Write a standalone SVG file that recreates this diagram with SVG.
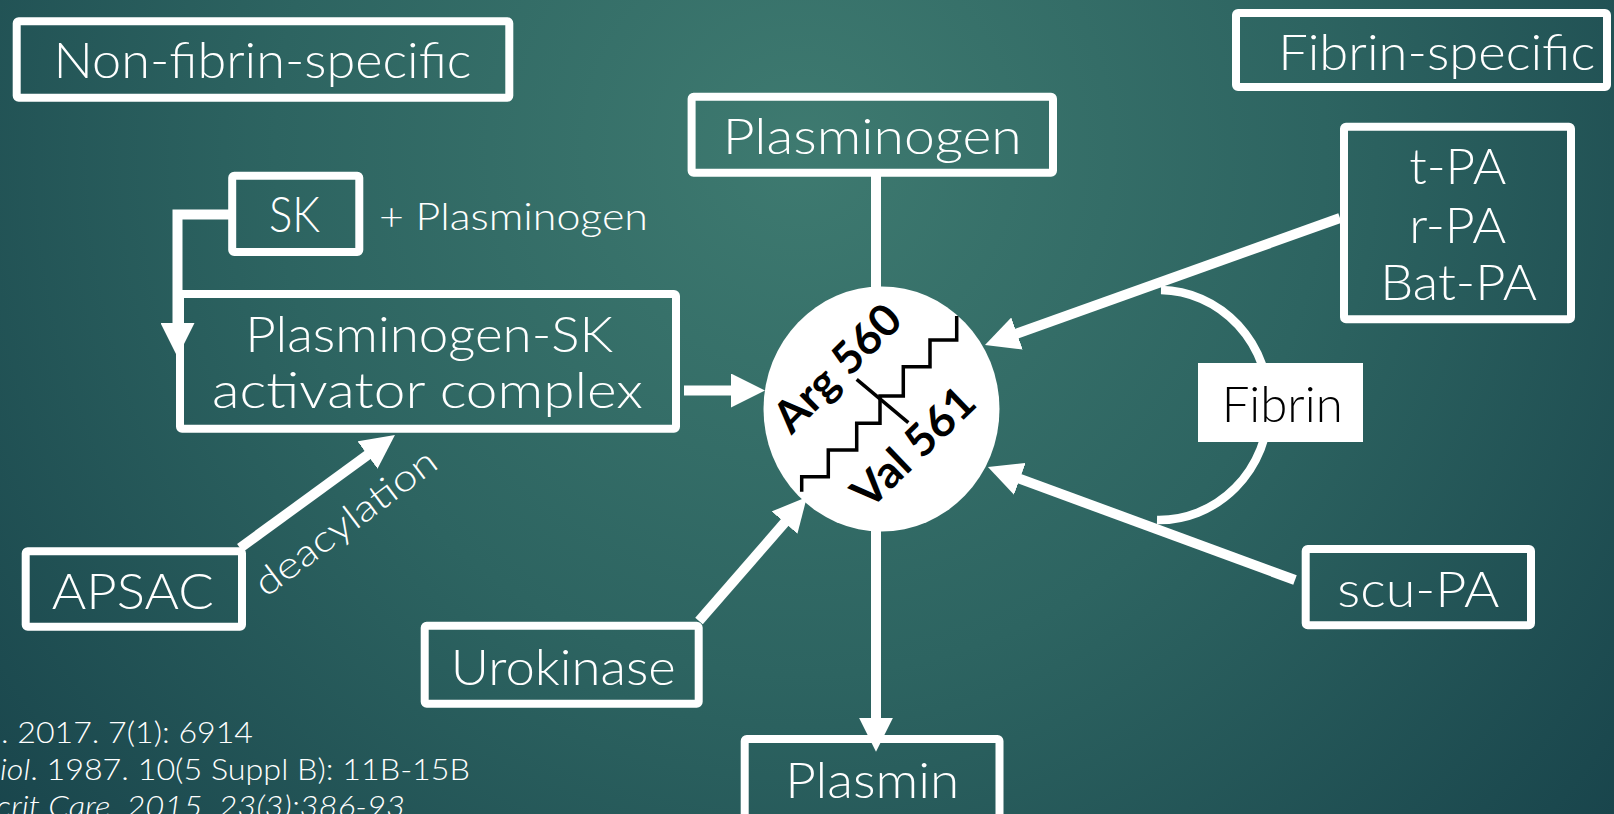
<svg xmlns="http://www.w3.org/2000/svg" width="1614" height="814" viewBox="0 0 1614 814">
<defs>
<radialGradient id="bg" gradientUnits="userSpaceOnUse" cx="800" cy="150" r="1050">
<stop offset="0" stop-color="#3e7a70"/>
<stop offset="0.5" stop-color="#2d6461"/>
<stop offset="1" stop-color="#19454c"/>
</radialGradient>
<marker id="ah" markerUnits="userSpaceOnUse" markerWidth="34" markerHeight="34" viewBox="0 0 34 34" refX="2" refY="17" orient="auto">
<path d="M0,0 L34,17 L0,34 z" fill="#ffffff"/>
</marker>
<style>
.box{fill:none;stroke:#ffffff;stroke-width:8;}
.t{font-family:"Lato","Noto Sans","Liberation Sans",sans-serif;font-weight:300;fill:#ffffff;font-size:49px;text-anchor:middle;}
.s{font-size:37px;}
.c{font-family:"Lato","Noto Sans","Liberation Sans",sans-serif;font-weight:300;fill:#ffffff;font-size:29px;}
.b{font-family:"Lato","Liberation Sans",sans-serif;font-weight:bold;fill:#000000;font-size:44px;text-anchor:middle;}
.ln{fill:none;stroke:#ffffff;stroke-width:10;stroke-linejoin:miter;}
.arr{marker-end:url(#ah);}
.zz{fill:none;stroke:#000000;stroke-width:3.5;}
</style>
</defs>
<rect width="1614" height="814" fill="url(#bg)"/>

<g id="connectors">
<path class="ln arr" d="M229,214.5 H177.5 V325"/>
<path class="ln arr" d="M684,390.5 H733"/>
<path class="ln arr" d="M1340,218 L1015.1,334.2"/>
<path class="ln arr" d="M1295,580 L1018,478.1"/>
<path class="ln arr" d="M699,621 L785.9,521.1"/>
<path class="ln arr" d="M240,548 L369.1,453.9"/>
<path class="ln arr" d="M876,531 V719.7"/>
<path class="ln" d="M876,176 V292"/>
<path fill="none" stroke="#ffffff" stroke-width="8.5" d="M1161,290 A 110 115 0 0 1 1157,520"/>
<text class="t s" transform="translate(266,598) rotate(-37)" style="text-anchor:start" textLength="218" lengthAdjust="spacingAndGlyphs">deacylation</text>
<text class="t s" x="379" y="230" style="text-anchor:start" textLength="269" lengthAdjust="spacingAndGlyphs">+ Plasminogen</text>
</g>

<g id="non-fibrin-specific">
<rect class="box" x="16.7" y="21.3" width="492.6" height="76.4" rx="2"/>
<text class="t" x="262.5" y="78.3" textLength="418" lengthAdjust="spacingAndGlyphs">Non-fibrin-specific</text>
</g>

<g id="fibrin-specific">
<rect class="box" x="1236" y="13" width="371" height="74" rx="2"/>
<text class="t" x="1436.7" y="69.5" textLength="317" lengthAdjust="spacingAndGlyphs">Fibrin-specific</text>
</g>

<g id="plasminogen">
<rect class="box" x="691.6" y="96.7" width="361.4" height="76" rx="2"/>
<text class="t" x="872.2" y="154" textLength="299" lengthAdjust="spacingAndGlyphs">Plasminogen</text>
</g>

<g id="sk">
<rect class="box" x="232.2" y="175.7" width="127.1" height="76.3" rx="2"/>
<text class="t" x="294.5" y="231.7" textLength="51" lengthAdjust="spacingAndGlyphs">SK</text>
</g>

<g id="plasminogen-sk">
<rect class="box" x="180" y="294" width="496" height="134.7" rx="2"/>
<text class="t" x="429.2" y="351.7" textLength="368" lengthAdjust="spacingAndGlyphs">Plasminogen-SK</text>
<text class="t" x="427.5" y="408.3" textLength="431" lengthAdjust="spacingAndGlyphs">activator complex</text>
</g>

<g id="apsac">
<rect class="box" x="25.7" y="551.3" width="216.3" height="75.4" rx="2"/>
<text class="t" x="132.8" y="609.3" textLength="162" lengthAdjust="spacingAndGlyphs">APSAC</text>
</g>

<g id="urokinase">
<rect class="box" x="424.7" y="625.7" width="274" height="78" rx="2"/>
<text class="t" x="563.3" y="685" textLength="225" lengthAdjust="spacingAndGlyphs">Urokinase</text>
</g>

<g id="plasmin">
<rect class="box" x="744.7" y="739" width="254.8" height="100" rx="2"/>
<text class="t" x="872.2" y="798" textLength="174" lengthAdjust="spacingAndGlyphs">Plasmin</text>
</g>

<g id="pa-group">
<rect class="box" x="1344" y="126.7" width="227" height="192.6" rx="2"/>
<text class="t" x="1457.7" y="184" textLength="97" lengthAdjust="spacingAndGlyphs">t-PA</text>
<text class="t" x="1457.7" y="242.5" textLength="97" lengthAdjust="spacingAndGlyphs">r-PA</text>
<text class="t" x="1458.7" y="300" textLength="157" lengthAdjust="spacingAndGlyphs">Bat-PA</text>
</g>

<g id="scu-pa">
<rect class="box" x="1305.7" y="549" width="225.3" height="76.3" rx="2"/>
<text class="t" x="1418.3" y="606.7" textLength="162" lengthAdjust="spacingAndGlyphs">scu-PA</text>
</g>

<g id="fibrin">
<rect x="1198" y="363" width="165" height="79" fill="#ffffff"/>
<text class="t" x="1282.2" y="421.7" style="fill:#000000" textLength="121" lengthAdjust="spacingAndGlyphs">Fibrin</text>
</g>

<g id="cleavage-site">
<ellipse cx="881.5" cy="409" rx="118" ry="122.5" fill="#ffffff"/>
<polyline class="zz" points="956.7,316 956.7,340 930,340 930,366.7 903.3,366.7 903.3,396 880,396 880,423.3 856.7,423.3 856.7,450 828.3,450 828.3,476.7 801.7,476.7 801.7,491.7"/>
<line class="zz" x1="856.7" y1="379.3" x2="908.3" y2="422.7"/>
<text class="b" transform="translate(848,379) rotate(-45)" textLength="160" lengthAdjust="spacingAndGlyphs">Arg 560</text>
<text class="b" transform="translate(924,458) rotate(-44)" textLength="152" lengthAdjust="spacingAndGlyphs">Val 561</text>
</g>

<g id="references">
<text class="c" x="1" y="742.7" textLength="252" lengthAdjust="spacingAndGlyphs">. 2017. 7(1): 6914</text>
<text class="c" x="0" y="780" textLength="470" lengthAdjust="spacingAndGlyphs"><tspan font-style="italic">iol</tspan>. 1987. 10(5 Suppl B): 11B-15B</text>
<text class="c" x="-4" y="817" font-style="italic" textLength="409" lengthAdjust="spacingAndGlyphs">crit Care. 2015. 23(3):386-93</text>
</g>
</svg>
